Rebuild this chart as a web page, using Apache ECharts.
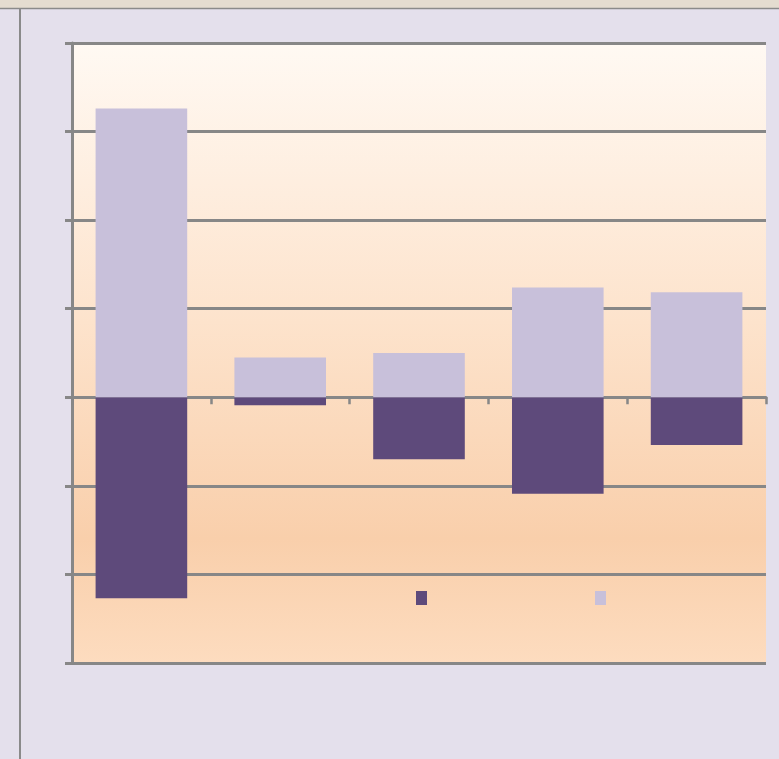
<!DOCTYPE html>
<html>
<head>
<meta charset="utf-8">
<script src="https://cdn.jsdelivr.net/npm/echarts@6/dist/echarts.min.js"></script>
<style>html,body{margin:0;padding:0;background:#E4E0EC;}#c{width:779px;height:759px;}</style>
</head>
<body>
<div id="c"></div>
<script>
const categories = ['1', '2', '3', '4', '5'];
const negativeValues = [-22.7, -0.9, -7.0, -10.9, -5.4];
const positiveValues = [32.6, 4.5, 5.0, 12.4, 11.85];
const yMin = -30, yMax = 40, yInterval = 10;

const chart = echarts.init(document.getElementById('c'), null, {renderer: 'canvas'});
const lineColor = '#878787';
chart.setOption({
  backgroundColor: '#E4E0EC',
  animation: false,
  graphic: [
    {type: 'rect', shape: {x: 0, y: 0, width: 779, height: 8}, style: {fill: '#E4DCD0'}, z: 0},
    {type: 'line', shape: {x1: 0, y1: 8.5, x2: 779, y2: 8.5}, style: {stroke: '#8A8A8A', lineWidth: 1.5}, z: 0},
    {type: 'line', shape: {x1: 20, y1: 9, x2: 20, y2: 759}, style: {stroke: '#8A8A8A', lineWidth: 2}, z: 0}
  ],
  grid: {
    left: 72, right: 13, top: 43, bottom: 96,
    show: true,
    borderWidth: 0,
    backgroundColor: {
      type: 'linear', x: 0, y: 0, x2: 0, y2: 1,
      colorStops: [
        {offset: 0, color: '#FFF9F3'},
        {offset: 0.45, color: '#FDE3CC'},
        {offset: 0.8, color: '#F9CFAB'},
        {offset: 1, color: '#FDDCBF'}
      ]
    }
  },
  legend: {
    left: 411, top: 586,
    itemWidth: 11, itemHeight: 14, itemGap: 168,
    icon: 'rect',
    formatter: () => '',
    textStyle: {fontSize: 1},
    data: ['neg', 'pos']
  },
  xAxis: {
    type: 'category',
    data: categories,
    axisLine: {onZero: true, lineStyle: {color: lineColor, width: 3}},
    axisTick: {show: true, inside: false, length: 7, lineStyle: {color: lineColor, width: 2.5}},
    axisLabel: {show: false},
    splitLine: {show: false}
  },
  yAxis: {
    type: 'value',
    min: yMin, max: yMax, interval: yInterval,
    axisLine: {show: true, lineStyle: {color: lineColor, width: 3}},
    axisTick: {show: true, length: 7, lineStyle: {color: lineColor, width: 3}},
    axisLabel: {show: false},
    splitLine: {show: true, lineStyle: {color: lineColor, width: 3}}
  },
  series: [
    {name: 'neg', type: 'bar', stack: 's', data: negativeValues, barWidth: '66%', itemStyle: {color: '#5E4A7B'}},
    {name: 'pos', type: 'bar', stack: 's', data: positiveValues, barWidth: '66%', itemStyle: {color: '#C8C0DA'}}
  ]
});
</script>
</body>
</html>
